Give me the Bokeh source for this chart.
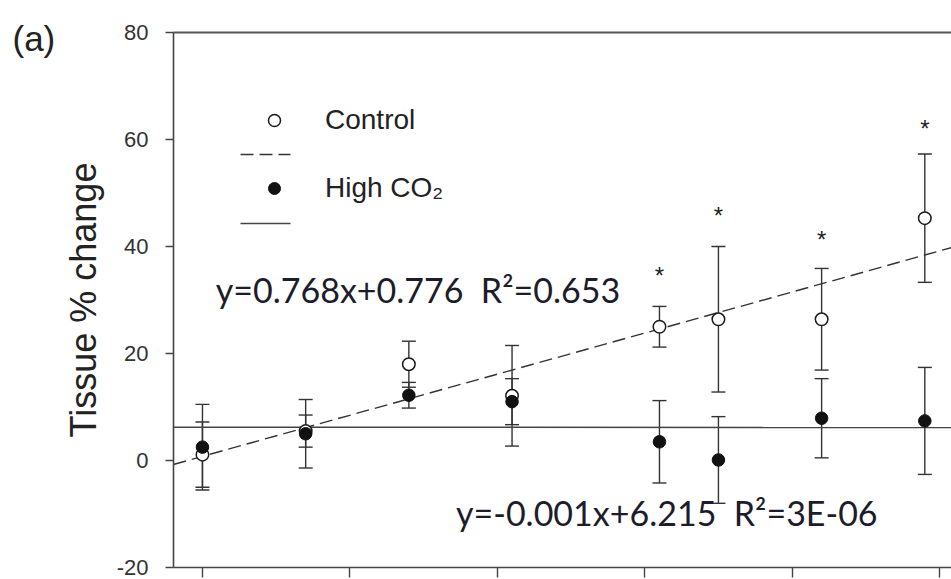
from bokeh.plotting import figure
from bokeh.models import (ColumnDataSource, Whisker, TeeHead, Legend, LegendItem,
                          LinearAxis, Label, Range1d, FixedTicker, Arrow)
from bokeh.core.properties import value
from bokeh.embed import file_html
from bokeh.resources import INLINE

# ---- data ----
days = [0, 7, 14, 21, 31, 35, 42, 49]
control = [1.1, 5.5, 18.0, 12.1, 25.0, 26.4, 26.4, 45.3]
control_err = [6.1, 3.0, 4.3, 9.4, 3.8, 13.6, 9.5, 12.0]
high_co2 = [2.5, 5.0, 12.2, 11.0, 3.5, 0.1, 7.9, 7.4]
high_co2_err = [8.0, 6.4, 2.4, 4.3, 7.7, 8.1, 7.4, 10.0]

sig_days = [31, 35, 42, 49]
sig_y = [35.7, 46.9, 42.4, 63.2]

control_fit = (0.768, 0.776)
high_fit = (-0.001, 6.215)
NB = "\u00a0"
eq_text = ["y=0.768x+0.776" + NB * 2 + "R\u00b2=0.653",
           "y=-0.001x+6.215" + NB * 2 + "R\u00b2=3E-06"]
eq_x = [0.9, 17.2]
eq_y = [32.0, -9.7]

x_ticks = [0, 10, 20, 30, 40, 50]
y_ticks = [-20, 0, 20, 40, 60, 80]
y_tick_labels = {t: str(t) for t in y_ticks}

# axis extents (where the axes sit) and visible window
X_LEFT, X_RIGHT = -1.97, 50.81
Y_LOW, Y_HIGH = -20, 80

p = figure(width=951, height=579, output_backend="svg", toolbar_location=None,
           x_range=Range1d(-13.70, 50.81), y_range=Range1d(-22.24, 85.98),
           min_border_left=0, min_border_right=0, min_border_top=0, min_border_bottom=0,
           x_axis_location=None, y_axis_location=None)
p.outline_line_color = None
p.xgrid.visible = False
p.ygrid.visible = False
p.background_fill_color = "white"
p.border_fill_color = "white"

AX = "#444"

# left axis
yax = LinearAxis(ticker=FixedTicker(ticks=y_ticks), fixed_location=X_LEFT, bounds=(Y_LOW, Y_HIGH))
yax.axis_line_color = AX
yax.axis_line_width = 1.6
yax.major_tick_line_color = AX
yax.major_tick_line_width = 1.4
yax.major_tick_out = 8
yax.major_tick_in = 0
yax.minor_tick_line_color = None
yax.major_label_overrides = y_tick_labels
yax.major_label_text_font = "Liberation Sans"
yax.major_label_text_font_size = "22px"
yax.major_label_text_color = "#333"
yax.major_label_standoff = 17
yax.axis_label = "Tissue % change"
yax.axis_label_text_font = "Liberation Sans"
yax.axis_label_text_font_size = "36px"
yax.axis_label_text_font_style = "normal"
yax.axis_label_text_color = "#222"
yax.axis_label_standoff = 10
p.add_layout(yax, "left")

# bottom axis (labels lie outside the window)
xax = LinearAxis(ticker=FixedTicker(ticks=x_ticks), fixed_location=Y_LOW, bounds=(X_LEFT, X_RIGHT))
xax.axis_line_color = AX
xax.axis_line_width = 1.6
xax.major_tick_line_color = AX
xax.major_tick_line_width = 1.4
xax.major_tick_out = 10
xax.major_tick_in = 0
xax.minor_tick_line_color = None
xax.major_label_text_color = None
xax.major_label_text_font_size = "1px"
xax.major_label_standoff = 0
p.add_layout(xax, "below")

# top frame line
top = LinearAxis(ticker=FixedTicker(ticks=[]), fixed_location=Y_HIGH, bounds=(X_LEFT, X_RIGHT))
top.axis_line_color = "#555"
top.axis_line_width = 2
top.major_tick_line_color = None
top.minor_tick_line_color = None
top.major_label_text_color = None
top.major_label_text_font_size = "1px"
top.major_label_standoff = 0
p.add_layout(top, "above")

# regression lines (from the fitted equations)
fit_x = [X_LEFT, X_RIGHT]
DASH = "13 6"
p.line(fit_x, [control_fit[0] * x + control_fit[1] for x in fit_x],
       line_color="#333", line_width=1.4, line_dash=DASH)
p.line(fit_x, [high_fit[0] * x + high_fit[1] for x in fit_x],
       line_color="#444", line_width=1.5)

# error bars
csrc = ColumnDataSource(dict(x=days, y=control,
                             up=[v + e for v, e in zip(control, control_err)],
                             lo=[v - e for v, e in zip(control, control_err)]))
hsrc = ColumnDataSource(dict(x=days, y=high_co2,
                             up=[v + e for v, e in zip(high_co2, high_co2_err)],
                             lo=[v - e for v, e in zip(high_co2, high_co2_err)]))
for src in (csrc, hsrc):
    p.add_layout(Whisker(source=src, base="x", upper="up", lower="lo",
                         line_color="#333", line_width=1.4,
                         upper_head=TeeHead(size=14, line_color="#333", line_width=1.4),
                         lower_head=TeeHead(size=14, line_color="#333", line_width=1.4)))

r_c = p.scatter("x", "y", source=csrc, marker="circle", size=12.5,
                fill_color="white", line_color="#1a1a1a", line_width=1.5)
r_h = p.scatter("x", "y", source=hsrc, marker="circle", size=12.5,
                fill_color="#111", line_color="#111", line_width=1.0)

legend = Legend(items=[LegendItem(label="Control", renderers=[r_c]),
                       LegendItem(label="High CO\u2082", renderers=[r_h])],
                location=(240, 375), glyph_width=68, glyph_height=30, label_height=30,
                spacing=36, padding=0, margin=0, border_line_color=None,
                background_fill_alpha=0, label_standoff=17,
                label_text_font="Liberation Sans", label_text_font_size="28px",
                label_text_color="#222")
p.add_layout(legend)

# legend line keys (screen units, part of the legend layout)
p.add_layout(Arrow(x_start=240, y_start=425, x_end=290, y_end=425,
                   start_units="screen", end_units="screen", start=None, end=None,
                   line_color="#333", line_width=1.4, line_dash=DASH))
p.add_layout(Arrow(x_start=240, y_start=356, x_end=290, y_end=356,
                   start_units="screen", end_units="screen", start=None, end=None,
                   line_color="#444", line_width=1.5))

# significance asterisks
p.text(x=sig_days, y=sig_y, text=["*"] * len(sig_days), text_font=value("Liberation Sans"),
       text_font_size="24px", text_align="center", text_baseline="middle",
       text_color="#222", y_offset=6)

# equations
p.text(x=eq_x, y=eq_y, text=eq_text, text_font=value("Lato"), text_font_size="34px",
       text_align="left", text_baseline="alphabetic", text_color="#1c1c2a")

# panel label
p.add_layout(Label(x=12, y=541, x_units="screen", y_units="screen", text="(a)",
                   text_baseline="alphabetic",
                   text_font="Liberation Sans", text_font_size="35px", text_color="#222"))

open("out.html", "w").write(file_html(p, INLINE))
